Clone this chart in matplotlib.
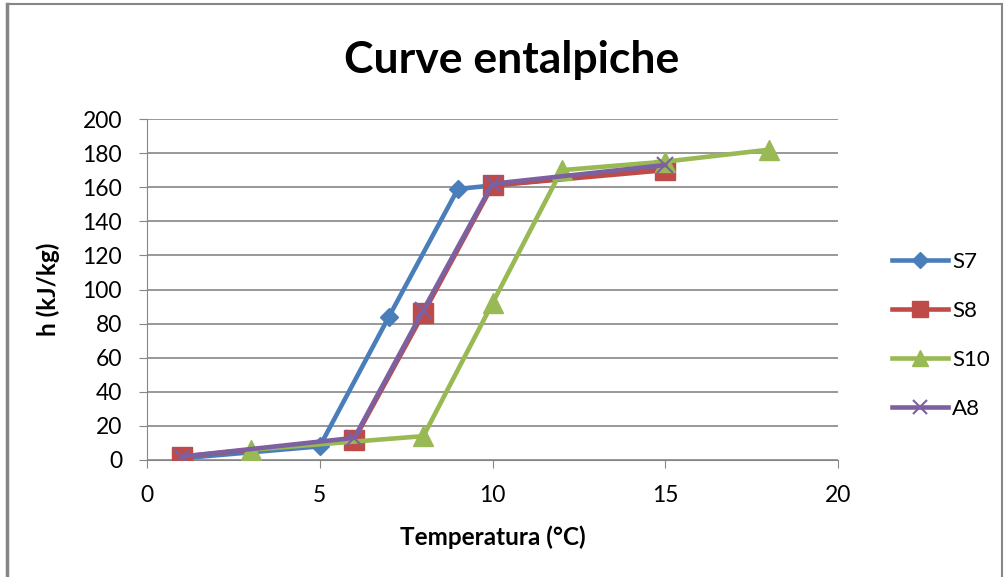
import matplotlib
matplotlib.use("Agg")
import matplotlib.pyplot as plt
from matplotlib.lines import Line2D

plt.rcParams['font.family'] = ['Lato', 'DejaVu Sans']

# data
s7_t = [1, 5, 7, 9, 15]
s7_h = [1, 8, 84, 159, 171]
s8_t = [1, 6, 8, 10, 15]
s8_h = [2, 12, 86, 161, 170]
s10_t = [3, 8, 10, 12, 15, 18]
s10_h = [6, 14, 92, 170, 175, 182]
a8_t = [1, 6, 8, 10, 15]
a8_h = [2, 13, 88, 162, 173]

fig = plt.figure(figsize=(10.05, 5.77), dpi=100)
ax = fig.add_axes([147 / 1005, 1 - 460 / 577, (838 - 147) / 1005, (460 - 119) / 577])

ax.plot(s7_t, s7_h, color='#4A7EBB', lw=3.3, marker='D', ms=9, label='S7', zorder=3)
ax.plot(s8_t, s8_h, color='#BE4B48', lw=3.3, marker='s', ms=14, label='S8', zorder=4)
ax.plot(s10_t, s10_h, color='#98B954', lw=3.3, marker='^', ms=14, label='S10', zorder=5)
ax.plot(a8_t, a8_h, color='#7D60A0', lw=3.3, marker='x', ms=12, mew=1.5, label='A8', zorder=6)

ax.set_xlim(0, 20)
ax.set_ylim(0, 200)
ax.set_xticks([0, 5, 10, 15, 20])
ax.set_yticks(range(0, 201, 20))
ax.yaxis.grid(True, color='#868686', lw=1.2)
ax.set_axisbelow(True)
for s in ['top', 'right']:
    ax.spines[s].set_visible(False)
for s in ['left', 'bottom']:
    ax.spines[s].set_color('#868686')
ax.tick_params(axis='both', colors='#868686', labelcolor='black', labelsize=16.5,
               direction='out', length=6)
ax.tick_params(axis='x', pad=12)
ax.tick_params(axis='y', pad=12)

ax.set_xlabel('Temperatura (°C)', fontsize=17.5, fontweight='bold', labelpad=14)
ax.set_ylabel('h (kJ/kg)', fontsize=17.5, fontweight='bold', labelpad=16)
fig.text(512 / 1005, 1 - 60 / 577, 'Curve entalpiche', fontsize=32, fontweight='bold',
         ha='center', va='center')

leg = fig.legend(loc='upper left', bbox_to_anchor=(892 / 1005, 1 - 252 / 577), frameon=False,
                 fontsize=16, handlelength=2.5, labelspacing=1.3, handletextpad=0.2,
                 borderpad=0, borderaxespad=0)
for h in leg.legend_handles:
    h.set_markersize(h.get_markersize() * 0.85)

# chart border
fig.add_artist(Line2D([7 / 1005, 7 / 1005], [0, 1 - 4 / 577], color='#868686', lw=2.5))
fig.add_artist(Line2D([7 / 1005, 1002 / 1005], [1 - 4 / 577, 1 - 4 / 577], color='#868686', lw=1.5))
fig.add_artist(Line2D([1002 / 1005, 1002 / 1005], [0, 1 - 4 / 577], color='#868686', lw=1.5))

fig.savefig('out.png', dpi=100)
